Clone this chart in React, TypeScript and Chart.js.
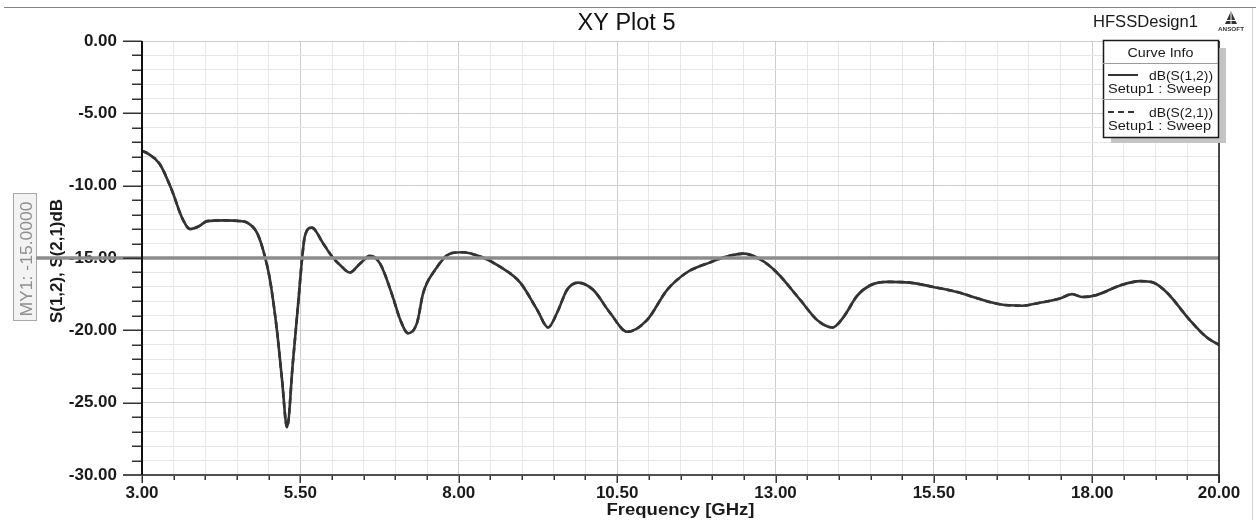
import React, { useEffect, useRef } from "react";
import { Chart, registerables } from "chart.js";

Chart.register(...registerables);

// ---- data ----
const frequencyGHz = [
  3.0, 3.1, 3.28, 3.47, 3.63, 3.76, 3.9, 4.03, 4.3, 4.55, 4.66, 4.82, 4.94, 5.02, 5.13, 5.21, 5.29,
  5.38, 5.46, 5.53, 5.57, 5.68, 5.86, 6.0, 6.13, 6.28, 6.44, 6.6, 6.76, 6.96, 7.07, 7.2, 7.34, 7.44,
  7.63, 7.86, 8.05, 8.34, 8.65, 8.97, 9.24, 9.41, 9.55, 9.71, 9.88, 10.12, 10.39, 10.66, 10.97,
  11.29, 11.6, 11.97, 12.23, 12.49, 12.76, 13.02, 13.39, 13.66, 13.9, 14.07, 14.29, 14.49, 14.76,
  15.12, 15.49, 15.91, 16.12, 16.54, 16.89, 17.17, 17.49, 17.68, 17.85, 18.07, 18.44, 18.75, 18.96,
  19.18, 19.54, 19.81, 20.0,
];

const s12dB = [
  -7.6, -7.8, -8.5, -10.3, -12.2, -13.0, -12.8, -12.45, -12.4, -12.45, -12.55, -13.3, -14.9, -16.5,
  -20.0, -23.4, -26.7, -22.3, -18.4, -14.9, -13.5, -12.9, -14.0, -14.9, -15.5, -16.0, -15.4, -14.85,
  -15.4, -17.7, -19.2, -20.2, -19.5, -17.4, -15.8, -14.7, -14.6, -14.9, -15.6, -16.7, -18.6, -19.8,
  -18.8, -17.2, -16.7, -17.2, -18.8, -20.1, -19.3, -17.2, -16.0, -15.3, -14.9, -14.7, -15.1, -16.0,
  -17.9, -19.3, -19.8, -19.1, -17.6, -16.9, -16.65, -16.7, -17.0, -17.4, -17.7, -18.2, -18.3, -18.1,
  -17.8, -17.5, -17.7, -17.55, -16.9, -16.6, -16.7, -17.4, -19.3, -20.5, -21.0,
];

const s21dB = [
  -7.6, -7.8, -8.5, -10.3, -12.2, -13.0, -12.8, -12.45, -12.4, -12.45, -12.55, -13.3, -14.9, -16.5,
  -20.0, -23.4, -26.7, -22.3, -18.4, -14.9, -13.5, -12.9, -14.0, -14.9, -15.5, -16.0, -15.4, -14.85,
  -15.4, -17.7, -19.2, -20.2, -19.5, -17.4, -15.8, -14.7, -14.6, -14.9, -15.6, -16.7, -18.6, -19.8,
  -18.8, -17.2, -16.7, -17.2, -18.8, -20.1, -19.3, -17.2, -16.0, -15.3, -14.9, -14.7, -15.1, -16.0,
  -17.9, -19.3, -19.8, -19.1, -17.6, -16.9, -16.65, -16.7, -17.0, -17.4, -17.7, -18.2, -18.3, -18.1,
  -17.8, -17.5, -17.7, -17.55, -16.9, -16.6, -16.7, -17.4, -19.3, -20.5, -21.0,
];

const xTickLabels = ["3.00", "5.50", "8.00", "10.50", "13.00", "15.50", "18.00", "20.00"];
const yTickLabels = ["0.00", "-5.00", "-10.00", "-15.00", "-20.00", "-25.00", "-30.00"];
const seriesNames = ["dB(S(1,2))", "dB(S(2,1))"];
const sweepName = "Setup1 : Sweep";
const markerName = "MY1";
const markerValue = -15;
const plotTitle = "XY Plot 5";
const designName = "HFSSDesign1";
const xTitle = "Frequency [GHz]";
const yTitle = "S(1,2), S(2,1)dB";

const FONT = '"Liberation Sans", Arial, sans-serif';

function labelFor(list: string[], v: number): string {
  for (const s of list) {
    if (Math.abs(parseFloat(s) - v) < 1e-6) return s;
  }
  return "";
}

function drawText(
  ctx: CanvasRenderingContext2D,
  s: string,
  x: number,
  y: number,
  font: string,
  color: string,
  align: "left" | "center" | "right",
  width?: number
) {
  ctx.save();
  ctx.font = font;
  ctx.fillStyle = color;
  ctx.textBaseline = "alphabetic";
  ctx.textAlign = "left";
  const w = ctx.measureText(s).width;
  const sx = width ? width / w : 1;
  const tw = w * sx;
  const left = align === "left" ? x : align === "center" ? x - tw / 2 : x - tw;
  ctx.translate(left, y);
  ctx.scale(sx, 1);
  ctx.fillText(s, 0, 0);
  ctx.restore();
}

const overlay = {
  id: "hfssOverlay",
  beforeDraw(chart: any) {
    const ctx = chart.ctx as CanvasRenderingContext2D;
    ctx.save();
    ctx.fillStyle = "#ffffff";
    ctx.fillRect(0, 0, chart.width, chart.height);
    ctx.restore();
  },
  beforeDatasetsDraw(chart: any) {
    const ctx = chart.ctx as CanvasRenderingContext2D;
    const y = chart.scales.y;
    const mid = y.getPixelForValue(markerValue);
    // y axis title (rotated)
    ctx.save();
    ctx.translate(62, mid + 3);
    ctx.rotate(-Math.PI / 2);
    drawText(ctx, yTitle, 0, 0, `bold 17px ${FONT}`, "#1a1a1a", "center", 124);
    ctx.restore();
    // marker value box
    ctx.save();
    ctx.fillStyle = "#f3f3f3";
    ctx.fillRect(13, 193, 24, 128);
    ctx.strokeStyle = "#a8a8a8";
    ctx.lineWidth = 1;
    ctx.strokeRect(13.5, 193.5, 23, 127);
    ctx.translate(32, 259);
    ctx.rotate(-Math.PI / 2);
    drawText(ctx, `${markerName}: ${markerValue.toFixed(4)}`, 0, 0, `16px ${FONT}`, "#8f8f8f", "center", 115);
    ctx.restore();
  },
  afterDatasetsDraw(chart: any) {
    const ctx = chart.ctx as CanvasRenderingContext2D;
    const area = chart.chartArea;
    const y = chart.scales.y;
    const py = y.getPixelForValue(markerValue);
    ctx.save();
    ctx.strokeStyle = "#8c8c8c";
    ctx.lineWidth = 3.5;
    ctx.beginPath();
    ctx.moveTo(36, py);
    ctx.lineTo(area.right, py);
    ctx.stroke();
    ctx.restore();
  },
  afterDraw(chart: any) {
    const ctx = chart.ctx as CanvasRenderingContext2D;
    const area = chart.chartArea;
    const xs = chart.scales.x;
    const ys = chart.scales.y;
    ctx.save();

    // tick marks
    ctx.strokeStyle = "#333333";
    ctx.lineWidth = 1.5;
    for (const t of xs.ticks) {
      const px = Math.round(xs.getPixelForValue(t.value)) + 0.25;
      const major = labelFor(xTickLabels, t.value) !== "";
      ctx.beginPath();
      ctx.moveTo(px, area.bottom);
      ctx.lineTo(px, area.bottom + (major ? 8 : 5));
      ctx.stroke();
    }
    for (const t of ys.ticks) {
      const py = Math.round(ys.getPixelForValue(t.value)) + 0.25;
      const major = labelFor(yTickLabels, t.value) !== "";
      ctx.beginPath();
      ctx.moveTo(area.left - (major ? 19 : 10), py);
      ctx.lineTo(area.left, py);
      ctx.stroke();
    }

    // axis lines
    ctx.strokeStyle = "#505050";
    ctx.lineWidth = 2;
    ctx.beginPath();
    ctx.moveTo(area.left - 19, area.bottom);
    ctx.lineTo(area.right, area.bottom);
    ctx.stroke();
    ctx.strokeStyle = "#111111";
    ctx.lineWidth = 2;
    ctx.beginPath();
    ctx.moveTo(area.left, area.top);
    ctx.lineTo(area.left, area.bottom);
    ctx.stroke();
    ctx.lineWidth = 1.6;
    ctx.strokeStyle = "#222222";
    ctx.beginPath();
    ctx.moveTo(area.right, area.top);
    ctx.lineTo(area.right, area.bottom + 8);
    ctx.stroke();

    // outer frame lines
    ctx.strokeStyle = "#858585";
    ctx.lineWidth = 1;
    ctx.beginPath();
    ctx.moveTo(4, 7.5);
    ctx.lineTo(chart.width, 7.5);
    ctx.stroke();
    ctx.strokeStyle = "#d4d4d4";
    ctx.beginPath();
    ctx.moveTo(1252.5, 8);
    ctx.lineTo(1252.5, chart.height);
    ctx.stroke();

    // titles
    drawText(ctx, plotTitle, (area.left + area.right) / 2 - 54, 30, `23px ${FONT}`, "#111111", "center", 98);
    drawText(ctx, designName, 1093, 27, `16px ${FONT}`, "#1a1a1a", "left", 105);
    drawText(ctx, xTitle, (area.left + area.right) / 2, 515, `bold 17px ${FONT}`, "#1a1a1a", "center", 148);

    // ANSOFT logo
    ctx.fillStyle = "#333333";
    ctx.beginPath();
    ctx.moveTo(1231, 11);
    ctx.lineTo(1237, 24);
    ctx.lineTo(1225, 24);
    ctx.closePath();
    ctx.fill();
    ctx.strokeStyle = "#ffffff";
    ctx.lineWidth = 1;
    ctx.beginPath();
    ctx.moveTo(1231, 12);
    ctx.lineTo(1231, 24);
    ctx.moveTo(1226, 20.5);
    ctx.lineTo(1236, 20.5);
    ctx.stroke();
    drawText(ctx, "ANSOFT", 1231, 31, `bold 6px ${FONT}`, "#333333", "center", 26);

    // legend (Curve Info)
    const lx = 1103, ly = 40, lw = 115, lh = 97;
    ctx.fillStyle = "#c4c4c4";
    ctx.fillRect(lx + 8, ly + 8, lw, lh - 2);
    ctx.fillStyle = "#ffffff";
    ctx.fillRect(lx, ly, lw, lh);
    ctx.strokeStyle = "#1a1a1a";
    ctx.lineWidth = 1.5;
    ctx.strokeRect(lx + 0.5, ly + 0.5, lw, lh);
    drawText(ctx, "Curve Info", lx + lw / 2, 57, `13px ${FONT}`, "#1a1a1a", "center", 66);
    ctx.strokeStyle = "#9a9a9a";
    ctx.lineWidth = 1;
    ctx.beginPath();
    ctx.moveTo(lx, 63.5);
    ctx.lineTo(lx + lw, 63.5);
    ctx.moveTo(lx, 99.5);
    ctx.lineTo(lx + lw, 99.5);
    ctx.stroke();
    ctx.strokeStyle = "#333333";
    ctx.lineWidth = 2;
    ctx.beginPath();
    ctx.moveTo(1108, 75);
    ctx.lineTo(1138, 75);
    ctx.stroke();
    ctx.setLineDash([6, 4]);
    ctx.beginPath();
    ctx.moveTo(1108, 112);
    ctx.lineTo(1138, 112);
    ctx.stroke();
    ctx.setLineDash([]);
    drawText(ctx, seriesNames[0], 1213, 80, `13px ${FONT}`, "#1a1a1a", "right", 64);
    drawText(ctx, sweepName, 1108, 93, `13px ${FONT}`, "#1a1a1a", "left", 103);
    drawText(ctx, seriesNames[1], 1213, 117, `13px ${FONT}`, "#1a1a1a", "right", 64);
    drawText(ctx, sweepName, 1108, 130, `13px ${FONT}`, "#1a1a1a", "left", 103);

    ctx.restore();
  },
};

export default function App() {
  const canvasRef = useRef<HTMLCanvasElement | null>(null);

  useEffect(() => {
    const canvas = canvasRef.current;
    if (!canvas) return;
    const toPoints = (vals: number[]) => frequencyGHz.map((f, i) => ({ x: f, y: vals[i] }));
    const chart = new Chart(canvas, {
      type: "line",
      data: {
        datasets: [
          {
            label: seriesNames[0],
            data: toPoints(s12dB),
            borderColor: "#333333",
            borderWidth: 2.6,
            pointRadius: 0,
            fill: false,
            cubicInterpolationMode: "monotone",
          },
          {
            label: seriesNames[1],
            data: toPoints(s21dB),
            borderColor: "#333333",
            borderWidth: 2.6,
            borderDash: [6, 4],
            pointRadius: 0,
            fill: false,
            cubicInterpolationMode: "monotone",
          },
        ],
      },
      options: {
        responsive: false,
        animation: false,
        devicePixelRatio: 1,
        layout: { padding: { left: 0, top: 41, right: 37, bottom: 0 } },
        plugins: {
          legend: { display: false },
          title: { display: false },
          tooltip: { enabled: false },
        },
        scales: {
          x: {
            type: "linear",
            min: 3,
            max: 20,
            afterFit: (s: any) => {
              s.height = 45;
            },
            ticks: {
              stepSize: 0.5,
              autoSkip: false,
              maxRotation: 0,
              minRotation: 0,
              padding: 8,
              color: "#1a1a1a",
              font: { family: FONT, size: 17, weight: "bold" },
              callback: (v: any) => labelFor(xTickLabels, Number(v)),
            },
            grid: {
              drawTicks: false,
              lineWidth: 1,
              color: (c: any) =>
                c.tick && labelFor(xTickLabels, c.tick.value) !== "" ? "#cdcdcd" : "#e6e6e6",
            },
            border: { display: false },
          },
          y: {
            type: "linear",
            min: -30,
            max: 0,
            afterFit: (s: any) => {
              s.width = 142;
            },
            ticks: {
              stepSize: 1,
              autoSkip: false,
              padding: 25,
              color: "#1a1a1a",
              font: { family: FONT, size: 17, weight: "bold" },
              callback: (v: any) => labelFor(yTickLabels, Number(v)),
            },
            grid: {
              drawTicks: false,
              lineWidth: 1,
              color: (c: any) =>
                c.tick && labelFor(yTickLabels, c.tick.value) !== "" ? "#cdcdcd" : "#e6e6e6",
            },
            border: { display: false },
          },
        },
      },
      plugins: [overlay],
    } as any);
    return () => chart.destroy();
  }, []);

  return (
    <div style={{ position: "fixed", left: 0, top: 0, width: 1256, height: 520, background: "#fff" }}>
      <canvas ref={canvasRef} width={1256} height={520} style={{ display: "block" }} />
    </div>
  );
}
